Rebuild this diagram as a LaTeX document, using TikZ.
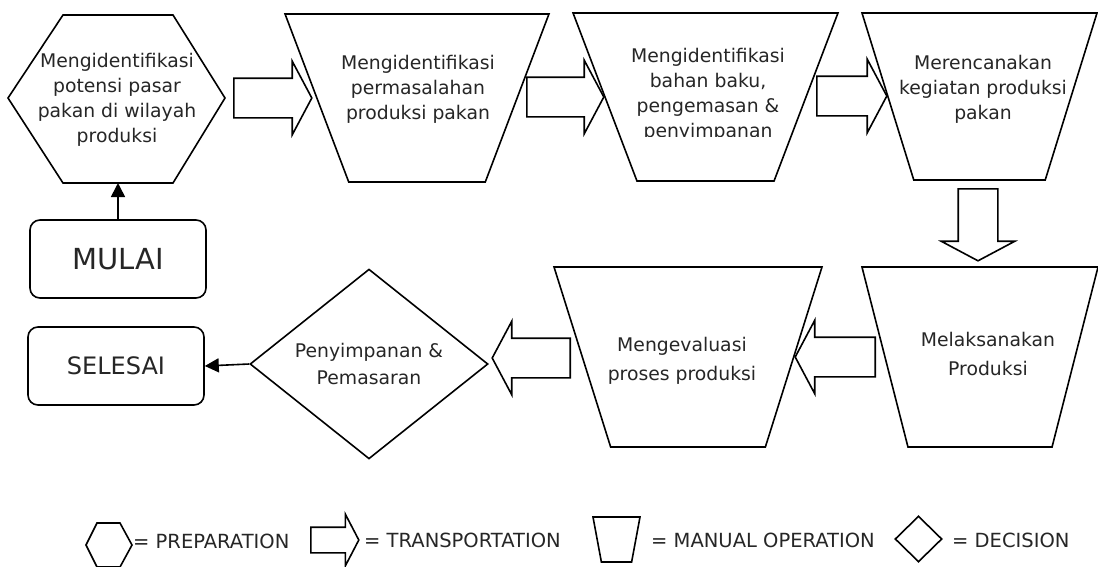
\documentclass[tikz,border=0pt]{standalone}
\usepackage{fontspec}
\setmainfont{DejaVu Sans}
\usetikzlibrary{shapes.geometric,shapes.arrows,arrows.meta}

\tikzset{
  outline/.style={draw=black,line width=1.6pt},
  manualop/.style={outline,trapezium,shape border rotate=180,trapezium stretches=true,inner sep=2pt},
  transport/.style={outline,single arrow,single arrow tip angle=124,single arrow head extend=17pt,minimum width=72pt,inner xsep=0pt,inner ysep=19pt,anchor=tail},
  terminal/.style={outline,rounded corners=10pt,minimum width=176pt,minimum height=78pt,text=black!85},
  decision/.style={outline,diamond,inner sep=0pt},
  txt/.style={align=center,text=black!85,font=\fontsize{18.8}{25}\selectfont},
  txtwide/.style={txt,font=\fontsize{18.8}{28.5}\selectfont},
  legtxt/.style={anchor=west,inner sep=0pt,text=black!85,font=\fontsize{19.5}{22}\selectfont},
  flow/.style={line width=1.6pt,-{Triangle[length=14pt,width=14pt]}}
}

\begin{document}
\begin{tikzpicture}[x=1pt,y=-1pt]
	\useasboundingbox (0,0) rectangle (1098,566);

	% preparation
	\draw[outline] (8,98) -- (63,15) -- (173,15) -- (225,98) -- (173,183) -- (63,183) -- cycle;
	\coordinate (prep s) at (118,183);
	\node[txt] (prep) at (117,100) {Mengidentifikasi\\potensi pasar\\pakan di wilayah\\produksi};

	% manual operations, top row
	\node[manualop,minimum width=264pt,minimum height=168pt,trapezium left angle=65,trapezium right angle=65] (op1) at (417,98) {};
	\node[manualop,minimum width=265pt,minimum height=168pt,trapezium left angle=65,trapezium right angle=65] (op2) at (705.5,97) {};
	\node[manualop,minimum width=235pt,minimum height=167pt,trapezium left angle=68.5,trapezium right angle=68.5] (op3) at (979.5,96.5) {};
	\node[txt] (op1 txt) at (418,89) {Mengidentifikasi\\permasalahan\\produksi pakan};
	\begin{scope}
		\clip (600,20) rectangle (820,136);
		\node[txt] (op2 txt) at (708,95) {Mengidentifikasi\\bahan baku,\\pengemasan \&\\penyimpanan};
	\end{scope}
	\node[txt] (op3 txt) at (983,89) {Merencanakan\\kegiatan produksi\\pakan};

	% manual operations, bottom row
	\node[manualop,minimum width=236pt,minimum height=180pt,trapezium left angle=72.3,trapezium right angle=72.3] (op4) at (980,357) {};
	\node[manualop,minimum width=268pt,minimum height=180pt,trapezium left angle=69.9,trapezium right angle=69.9] (op5) at (688,357) {};
	\node[txtwide] (op4 txt) at (988,354) {Melaksanakan\\Produksi};
	\node[txtwide] (op5 txt) at (682,361) {Mengevaluasi\\proses produksi};

	% transportation
	\node[transport,minimum height=78pt] (tr1) at (233,98) {};
	\node[transport,minimum height=77pt] (tr2) at (526,97) {};
	\node[transport,minimum height=70pt] (tr3) at (816,96) {};
	\node[transport,minimum height=72pt,inner xsep=19pt,inner ysep=0pt,shape border rotate=270] (tr4) at (978,188) {};
	\node[transport,minimum height=80pt,shape border rotate=180] (tr5) at (876,357) {};
	\node[transport,minimum height=78pt,shape border rotate=180] (tr6) at (571,358) {};

	% decision and terminals
	\node[decision,txt,font=\fontsize{18.8}{27}\selectfont,minimum width=238pt,minimum height=178pt] (dec) at (369,364) {Penyimpanan \&\\Pemasaran};
	\node[terminal,font=\fontsize{29}{34}\selectfont] (mulai) at (118,259) {MULAI};
	\node[terminal,font=\fontsize{24}{28}\selectfont] (selesai) at (116,366) {SELESAI};

	\draw[flow] (mulai) -- (prep s);
	\draw[flow] (dec.west) -- (selesai.east);

	% legend
	\draw[outline] (86,545) -- (97,523) -- (120,523) -- (132,545) -- (120,567) -- (97,567) -- cycle;
	\node[legtxt] (leg prep) at (133,541) {= PREPARATION};
	\node[transport,minimum height=48pt,minimum width=50pt,inner ysep=12pt,single arrow head extend=13pt,single arrow tip angle=125] (leg tr) at (310,540) {};
	\node[legtxt] (leg tr txt) at (364,540) {= TRANSPORTATION};
	\node[manualop,minimum width=47pt,minimum height=45pt,trapezium left angle=74.5,trapezium right angle=74.5] (leg op) at (616.5,539.5) {};
	\node[legtxt] (leg op txt) at (651,540) {= MANUAL OPERATION};
	\node[decision,minimum width=47pt,minimum height=46pt] (leg dec) at (918.5,539) {};
	\node[legtxt] (leg dec txt) at (952,540) {= DECISION};
\end{tikzpicture}
\end{document}
